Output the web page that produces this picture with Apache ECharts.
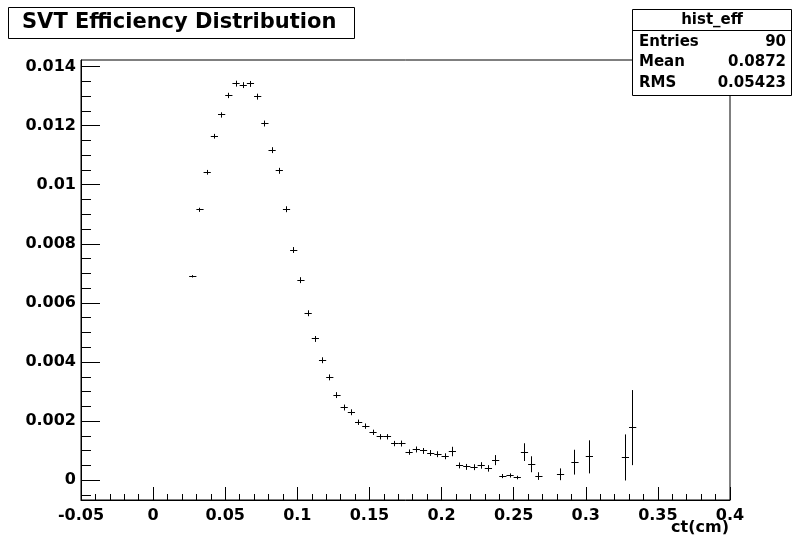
<!DOCTYPE html>
<html>
<head>
<meta charset="utf-8">
<script src="https://cdn.jsdelivr.net/npm/echarts@6/dist/echarts.min.js"></script>
<style>html,body{margin:0;padding:0;background:#fff;}#c{width:794px;height:537px;}</style>
</head>
<body>
<div id="c"></div>
<script>
// ---- data (hist_eff) ----
const binHalfWidth = 0.0025;
const ctCenters = [0.0275,0.0325,0.0375,0.0425,0.0475,0.0525,0.0575,0.0625,0.0675,0.0725,
  0.0775,0.0825,0.0875,0.0925,0.0975,0.1025,0.1075,0.1125,0.1175,0.1225,
  0.1275,0.1325,0.1375,0.1425,0.1475,0.1525,0.1575,0.1625,0.1675,0.1725,
  0.1775,0.1825,0.1875,0.1925,0.1975,0.2025,0.2075,0.2125,0.2175,0.2225,
  0.2275,0.2325,0.2375,0.2425,0.2475,0.2525,0.2575,0.2625,0.2675,0.2825,
  0.2925,0.3025,0.3275,0.3325];
const effValues = [0.00690,0.00915,0.01042,0.01164,0.01236,0.01302,0.01342,0.01337,0.01341,0.01298,
  0.01207,0.01117,0.01047,0.00917,0.00779,0.00677,0.00565,0.00478,0.00406,0.00348,
  0.00288,0.00246,0.00230,0.00196,0.00183,0.00162,0.00147,0.00147,0.00124,0.00124,
  0.00095,0.00104,0.00099,0.00092,0.00088,0.00081,0.00097,0.00050,0.00045,0.00044,
  0.00050,0.00040,0.00068,0.00014,0.00016,0.00009,0.00095,0.00054,0.00014,0.00020,
  0.00061,0.00079,0.00077,0.00178];
const effErrors = [0.00004,0.00007,0.00008,0.00008,0.00009,0.00009,0.00010,0.00010,0.00010,0.00010,
  0.00010,0.00010,0.00010,0.00010,0.00010,0.00010,0.00010,0.00010,0.00010,0.00010,
  0.00010,0.00010,0.00010,0.00009,0.00009,0.00009,0.00009,0.00009,0.00009,0.00010,
  0.00009,0.00010,0.00010,0.00010,0.00010,0.00010,0.00016,0.00010,0.00010,0.00010,
  0.00011,0.00011,0.00017,0.00007,0.00007,0.00006,0.00030,0.00027,0.00013,0.00020,
  0.00042,0.00056,0.00078,0.00127];
const yMajorTicks = [0,0.002,0.004,0.006,0.008,0.01,0.012,0.014];
const yMinorTicks = [-0.0005,0.0005,0.001,0.0015,0.0025,0.003,0.0035,0.0045,0.005,0.0055,
  0.0065,0.007,0.0075,0.0085,0.009,0.0095,0.0105,0.011,0.0115,0.0125,0.013,0.0135];
const statsRows = [["Entries","90"],["Mean","0.0872"],["RMS","0.05423"]];
const titleText = "SVT Efficiency Distribution";
const statsTitle = "hist_eff";
const xAxisTitle = "ct(cm)";

const FONT = "DejaVu Sans";
const chart = echarts.init(document.getElementById('c'), null, {renderer:'canvas'});
const px = v => Math.round(v - 0.5) + 0.5;

function renderItem(params, api) {
  const x = api.value(0), y = api.value(1), e = api.value(2);
  const l = api.coord([x - binHalfWidth, y]);
  const r = api.coord([x + binHalfWidth, y]);
  const t = api.coord([x, y + e]);
  const b = api.coord([x, y - e]);
  const st = {stroke:'#000', lineWidth:1};
  return {type:'group', children:[
    {type:'line', shape:{x1:l[0], y1:px(l[1]), x2:r[0], y2:px(r[1])}, style:st},
    {type:'line', shape:{x1:px(t[0]), y1:t[1], x2:px(b[0]), y2:b[1]}, style:st}
  ]};
}

const labelStyle = {fontFamily:FONT, fontWeight:'bold', fontSize:16, color:'#000'};
const yMin = -0.00067, yMax = 0.01422;

const statsChildren = [
  {type:'rect', shape:{x:632.5, y:9.5, width:159, height:86}, style:{fill:'#fff', stroke:'#000', lineWidth:1}},
  {type:'line', shape:{x1:632.5, y1:30.5, x2:791.5, y2:30.5}, style:{stroke:'#000', lineWidth:1}},
  {type:'text', x:712, y:20, style:{text:statsTitle, font:'bold 15px "DejaVu Sans"', fill:'#000', align:'center', verticalAlign:'middle'}}
];
statsRows.forEach((row, i) => {
  const yy = 42 + i * 20.5;
  statsChildren.push({type:'text', x:639, y:yy, style:{text:row[0], font:'bold 15px "DejaVu Sans"', fill:'#000', align:'left', verticalAlign:'middle'}});
  statsChildren.push({type:'text', x:786, y:yy, style:{text:row[1], font:'bold 15px "DejaVu Sans"', fill:'#000', align:'right', verticalAlign:'middle'}});
});

chart.setOption({
  backgroundColor:'#fff',
  animation:false,
  grid:{left:81, right:64, top:60, bottom:37, show:true, borderColor:'#000', borderWidth:1, backgroundColor:'transparent', containLabel:false, outerBoundsMode:'none'},
  xAxis:{
    type:'value', min:-0.05, max:0.4, interval:0.05,
    axisLine:{show:true, onZero:false, lineStyle:{color:'#000', width:1}},
    axisTick:{show:true, inside:true, length:13, lineStyle:{color:'#000', width:1}},
    minorTick:{show:true, splitNumber:5, length:6, lineStyle:{color:'#000', width:1}},
    axisLabel:Object.assign({margin:8}, labelStyle),
    splitLine:{show:false}, minorSplitLine:{show:false}
  },
  yAxis:[{
    type:'value', min:yMin, max:yMax, position:'left',
    axisLine:{show:true, onZero:false, lineStyle:{color:'#000', width:1}},
    axisTick:{show:true, inside:true, length:19, customValues:yMajorTicks, lineStyle:{color:'#000', width:1}},
    axisLabel:Object.assign({margin:5, customValues:yMajorTicks}, labelStyle),
    splitLine:{show:false}
  },{
    type:'value', min:yMin, max:yMax, position:'left', offset:0,
    axisLine:{show:false, onZero:false},
    axisTick:{show:true, inside:true, length:10, customValues:yMinorTicks, lineStyle:{color:'#000', width:1}},
    axisLabel:{show:false},
    splitLine:{show:false}
  }],
  series:[{
    type:'custom', xAxisIndex:0, yAxisIndex:0,
    renderItem:renderItem,
    encode:{x:0, y:1},
    data:ctCenters.map((c, i) => [c, effValues[i], effErrors[i]]),
    clip:true, z:5
  }],
  graphic:[
    {type:'group', z:100, children:[
      {type:'rect', shape:{x:8.5, y:7.5, width:346, height:31}, style:{fill:'#fff', stroke:'#000', lineWidth:1}},
      {type:'text', x:22, y:23, style:{text:titleText, font:'bold 21px "DejaVu Sans"', fill:'#000', align:'left', verticalAlign:'middle'}}
    ]},
    {type:'group', z:100, children:statsChildren},
    {type:'text', z:100, x:729, y:520, style:{text:xAxisTitle, font:'bold 16px "DejaVu Sans"', fill:'#000', align:'right', verticalAlign:'top'}}
  ]
});
</script>
</body>
</html>
